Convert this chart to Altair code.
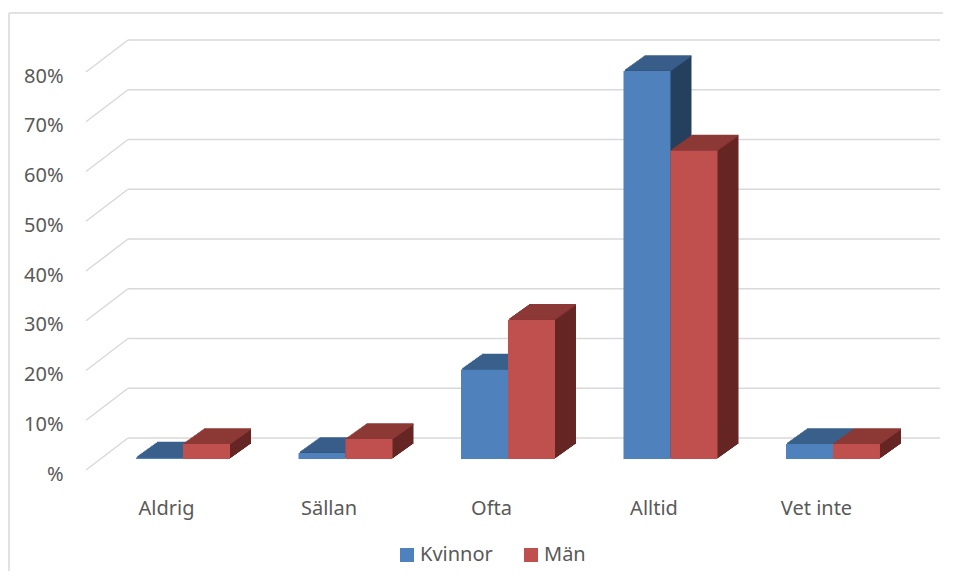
import altair as alt
import pandas as pd

# ---- data ----
categories = ["Aldrig", "Sällan", "Ofta", "Alltid", "Vet inte"]
kvinnor = [0.3, 1.2, 18, 78, 3]
man = [3, 4, 28, 62, 3]
series_names = ["Kvinnor", "Män"]
y_ticks = [0, 10, 20, 30, 40, 50, 60, 70, 80]

rows = []
for c, k, m in zip(categories, kvinnor, man):
    rows.append({"cat": c, "series": "Kvinnor", "value": k})
    rows.append({"cat": c, "series": "Män", "value": m})
df = pd.DataFrame(rows)
grid = pd.DataFrame({"v": y_ticks})
one = pd.DataFrame({"a": [0]})

# ---- style ----
W, H = 844, 398
FONT = "Noto Sans"
TXT = "#595959"
GRID = "#D9D9D9"
FRONT = {"Kvinnor": "#4F81BD", "Män": "#C0504D"}
TOP = {"Kvinnor": "#3A5F8B", "Män": "#8C3836"}
SIDE = {"Kvinnor": "#25405F", "Män": "#662624"}
BAR_W = 47
DX, DY = 21, 15
N = 15
OFF = {"Kvinnor": -BAR_W / 2, "Män": BAR_W / 2}

xscale = alt.Scale(domain=categories, paddingInner=0, paddingOuter=0.097)
yscale = alt.Scale(domain=[0, 80], nice=False)

YAXIS = alt.Axis(values=y_ticks, title=None, domain=False, ticks=False, grid=False,
                 labelExpr="datum.value == 0 ? '%' : datum.value + '%'",
                 labelPadding=23, labelOffset=15, labelFontSize=20, labelFont=FONT,
                 labelColor=TXT)
XAXIS = alt.Axis(title=None, domain=False, ticks=False, grid=False, labelAngle=0,
                 labelPadding=39, labelOffset=-16.5, labelFontSize=20, labelFont=FONT,
                 labelColor=TXT)


def X():
    return alt.X("cat:N", scale=xscale, axis=XAXIS)


def Y(field):
    return alt.Y(field + ":Q", scale=yscale, axis=YAXIS)


layers = []

# outer frame (top and left edge visible)
layers.append(alt.Chart(one).mark_rule(color=GRID, strokeWidth=1.5).encode(
    x=alt.value(-77), x2=alt.value(860), y=alt.value(-48)))
layers.append(alt.Chart(one).mark_rule(color=GRID, strokeWidth=1.5).encode(
    x=alt.value(-77), y=alt.value(-48), y2=alt.value(600)))

# back wall gridlines
layers.append(alt.Chart(grid).mark_rule(color=GRID, strokeWidth=1.5, yOffset=-21).encode(
    x=alt.value(42), x2=alt.value(854), y=Y("v")))
# side wall diagonals
layers.append(alt.Chart(grid).mark_rule(color=GRID, strokeWidth=1.5, yOffset=11, y2Offset=-21).encode(
    x=alt.value(0), x2=alt.value(42), y=Y("v"), y2="v:Q"))

for s_name in series_names:
    sub = alt.Chart(df).transform_filter(alt.datum.series == s_name)
    base_off = OFF[s_name]
    # extruded depth (side colour)
    for s in range(N, 0, -1):
        ox = base_off + DX * s / N
        oy = -DY * s / N
        layers.append(sub.mark_bar(width=BAR_W, color=SIDE[s_name], xOffset=ox, x2Offset=ox,
                                   yOffset=oy, y2Offset=oy).encode(x=X(), y=Y("value")))
    # top faces
    for s in range(N, 0, -1):
        ox = base_off + DX * s / N
        oy = -DY * s / N
        layers.append(sub.mark_tick(size=BAR_W, thickness=1.6, color=TOP[s_name], opacity=1,
                                    xOffset=ox, yOffset=oy).encode(x=X(), y=Y("value")))
    # front face
    layers.append(sub.mark_bar(width=BAR_W, xOffset=base_off, x2Offset=base_off, opacity=1).encode(
        x=X(), y=Y("value"),
        color=alt.Color("series:N",
                        scale=alt.Scale(domain=series_names,
                                        range=[FRONT[n] for n in series_names]),
                        legend=alt.Legend(title=None, orient="none", direction="horizontal",
                                          legendX=311, legendY=484, symbolType="square",
                                          symbolSize=196, symbolStrokeWidth=0,
                                          labelFontSize=20, labelFont=FONT, labelColor=TXT,
                                          labelOffset=3, columnPadding=28, padding=0))))

chart = alt.layer(*layers).properties(
    width=W, height=H,
    autosize=alt.AutoSizeParams(type="none"),
    padding={"left": 78, "top": 53, "right": 13, "bottom": 112},
).configure_view(stroke=None)

chart.save("out.html", embed_options={"renderer": "svg", "actions": False})
